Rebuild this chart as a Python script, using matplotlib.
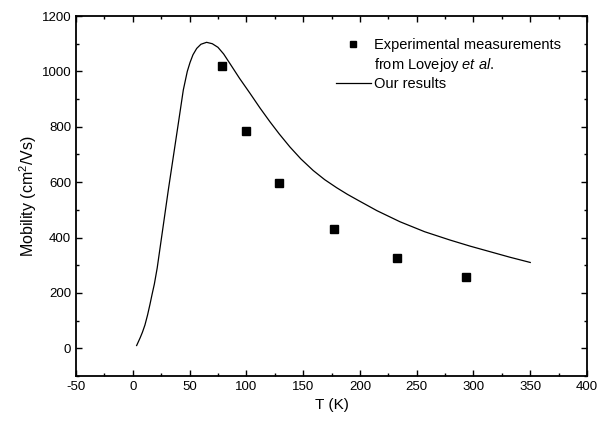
import matplotlib
matplotlib.use("Agg")
import matplotlib.pyplot as plt
from matplotlib.lines import Line2D
from matplotlib.ticker import MultipleLocator

plt.rcParams['font.family'] = ['Liberation Sans', 'DejaVu Sans']
plt.rcParams['mathtext.fontset'] = 'custom'
plt.rcParams['mathtext.rm'] = 'Liberation Sans'
plt.rcParams['mathtext.it'] = 'Liberation Sans:italic'
plt.rcParams['axes.unicode_minus'] = False

# experimental points (Lovejoy et al.)
exp_T = [79, 100, 129, 177, 233, 293]
exp_mu = [1020, 786, 598, 430, 326, 259]

# calculated curve
calc_T = [3.4, 6.5, 8.5, 10.7, 13.0, 15.1, 17.0, 19.0, 21.5, 24.0, 27.0, 31.3, 35.7,
          40.1, 44.5, 48.0, 50.4, 53.0, 56.3, 60.0, 65.0, 70.0, 75.0, 80.0, 85.6,
          94.0, 103.2, 112.0, 120.8, 129.0, 138.4, 148.0, 158.9, 169.0, 179.5, 189.0,
          198.6, 215.0, 235.3, 257.0, 279.3, 297.0, 314.5, 332.0, 350.0]
calc_mu = [10, 38, 58, 84, 120, 158, 195, 232, 290, 362, 448, 572, 692,
           812, 933, 1000, 1032, 1060, 1083, 1098, 1105, 1100, 1087, 1063, 1028,
           975, 921, 868, 818, 774, 727, 684, 642, 609, 580, 556,
           534, 497, 457, 421, 391, 369, 349, 329, 310]

fig = plt.figure(figsize=(6.08, 4.26), dpi=100)
ax = fig.add_axes([0.125, 0.1174, 0.8405, 0.845])

ax.plot(exp_T, exp_mu, 's', color='black', markersize=6, linestyle='none')
ax.plot(calc_T, calc_mu, '-', color='black', linewidth=0.9)

ax.set_xlim(-50, 400)
ax.set_ylim(-100, 1200)
ax.xaxis.set_major_locator(MultipleLocator(50))
ax.xaxis.set_minor_locator(MultipleLocator(25))
ax.yaxis.set_major_locator(MultipleLocator(200))
ax.yaxis.set_minor_locator(MultipleLocator(100))
ax.tick_params(which='both', direction='in', top=True, right=True,
               labeltop=False, labelright=False, width=1.0, labelsize=9.5)
ax.tick_params(which='major', length=4.5)
ax.tick_params(which='minor', length=2.5)
for s in ax.spines.values():
    s.set_linewidth(1.3)

ax.set_xlabel('T (K)', fontsize=11)
ax.set_ylabel('Mobility (cm$^2$/Vs)', fontsize=11.5, labelpad=2)

handles = [
    Line2D([], [], marker='s', color='black', linestyle='none', markersize=5),
    Line2D([], [], linestyle='none'),
    Line2D([], [], color='black', linewidth=0.9),
]
labels = ['Experimental measurements', 'from Lovejoy $\\it{et\\ al.}$', 'Our results']
ax.legend(handles, labels, loc='upper right', frameon=False, fontsize=10.5,
          handlelength=2.4, handletextpad=0.2, labelspacing=0.25,
          bbox_to_anchor=(0.96, 0.955), borderaxespad=0)

fig.savefig('out.png', dpi=100)
